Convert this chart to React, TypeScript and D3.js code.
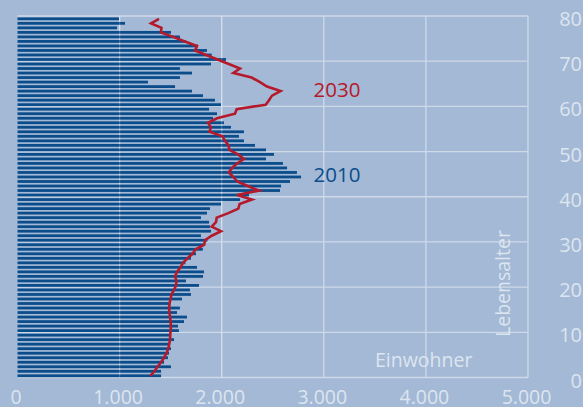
import React from 'react';
import * as d3 from 'd3';

// Age categories 0..79
const AGES: number[] = d3.range(0, 80);

// Population 2010 by age (ages 0..79)
const POP_2010: number[] = [
  1406, 1406, 1503, 1435, 1474, 1484, 1503, 1494, 1533, 1494,
  1581, 1572, 1631, 1660, 1562, 1591, 1500, 1611, 1699, 1689,
  1778, 1650, 1817, 1827, 1758, 1645, 1699, 1748, 1815, 1827,
  1860, 1797, 1895, 1885, 1876, 1797, 1856, 1885, 1993, 2179,
  2267, 2571, 2581, 2669, 2777, 2737, 2640, 2600, 2434, 2512,
  2434, 2326, 2218, 2169, 2218, 2091, 2022, 1915, 1954, 1876,
  1993, 1934, 1817, 1709, 1543, 1278, 1591, 1709, 1591, 1895,
  2042, 1902, 1856, 1766, 1650, 1591, 1503, 975, 1053, 994,
];

// Projection 2030 by age (ages 0..79)
const POP_2030: number[] = [
  1300, 1342, 1371, 1406, 1435, 1459, 1477, 1486, 1494, 1496,
  1500, 1503, 1499, 1494, 1489, 1484, 1489, 1499, 1508, 1533,
  1553, 1557, 1543, 1562, 1597, 1621, 1665, 1714, 1745, 1829,
  1836, 1902, 1993, 1902, 1944, 1951, 2065, 2163, 2175, 2297,
  2150, 2365, 2255, 2153, 2114, 2070, 2101, 2150, 2218, 2160,
  2075, 2067, 2032, 2008, 1880, 1895, 1866, 1954, 2130, 2147,
  2431, 2463, 2493, 2576, 2444, 2375, 2293, 2114, 2179, 2069,
  1959, 1849, 1739, 1758, 1640, 1523, 1405, 1410, 1308, 1386,
];

const X_TICKS: number[] = [0, 1000, 2000, 3000, 4000, 5000];
const X_TICK_LABELS: string[] = ['0', '1.000', '2.000', '3.000', '4.000', '5.000'];
const Y_TICKS: number[] = [0, 10, 20, 30, 40, 50, 60, 70, 80];
const Y_TICK_LABELS: string[] = ['0', '10', '20', '30', '40', '50', '60', '70', '80'];

const W = 583;
const H = 407;
const BG = '#a4b9d5';
const GRID = '#cfdae9';
const TEXT = '#dce5f0';
const BLUE = '#0b4d8b';
const RED = '#b51a2c';
const FONT = "'Open Sans', 'DejaVu Sans', sans-serif";

export default function App() {
  const x = d3.scaleLinear().domain([0, 5000]).range([17.5, 528]);
  const y = d3.scaleLinear().domain([0, 80]).range([377.5, 16]);

  const line = d3
    .line<number>()
    .x((a) => x(POP_2030[a]))
    .y((a) => y(a) - 1.7);

  return (
    <svg
      width={W}
      height={H}
      style={{ position: 'absolute', left: 0, top: 0, display: 'block' }}
      fontFamily={FONT}
    >
      <rect x={0} y={0} width={W} height={H} fill={BG} />

      {/* grid */}
      {Y_TICKS.map((t) => (
        <line key={'h' + t} x1={x(0)} x2={x(5000)} y1={y(t)} y2={y(t)} stroke={GRID} strokeWidth={1.3} />
      ))}
      {X_TICKS.filter((t) => t > 0).map((t) => (
        <line key={'v' + t} x1={x(t)} x2={x(t)} y1={y(80)} y2={y(0)} stroke={GRID} strokeWidth={1.3} />
      ))}

      {/* bars 2010 */}
      {AGES.map((a) => (
        <rect
          key={'b' + a}
          x={x(0)}
          y={y(a) - 3.1}
          width={x(POP_2010[a]) - x(0)}
          height={2.8}
          fill={BLUE}
        />
      ))}

      {/* faint grid over bars */}
      {X_TICKS.filter((t) => t > 0 && t < 3000).map((t) => (
        <line key={'vo' + t} x1={x(t)} x2={x(t)} y1={y(80)} y2={y(0)} stroke="#ffffff" strokeOpacity={0.18} strokeWidth={1.3} />
      ))}

      {/* 2030 line */}
      <path d={line(AGES) || ''} fill="none" stroke={RED} strokeWidth={2.6} strokeLinejoin="miter" />

      {/* x tick labels */}
      {X_TICKS.map((t, i) => (
        <text key={'xt' + t} x={x(t) - 1.5} y={403.5} textAnchor="middle" fontSize={19.5} fill={TEXT}>
          {X_TICK_LABELS[i]}
        </text>
      ))}

      {/* y tick labels */}
      {Y_TICKS.map((t, i) => (
        <text key={'yt' + t} x={582} y={y(t) + 10} textAnchor="end" fontSize={20} fill={TEXT}>
          {Y_TICK_LABELS[i]}
        </text>
      ))}

      <text x={375} y={367} fontSize={19.5} fill={TEXT}>Einwohner</text>
      <text transform="translate(509.5,337) rotate(-90)" fontSize={19.5} fill={TEXT}>Lebensalter</text>

      <text x={360.5} y={97.3} textAnchor="end" fontSize={20.5} fill={RED}>2030</text>
      <text x={360.5} y={181.7} textAnchor="end" fontSize={20.5} fill={BLUE}>2010</text>
    </svg>
  );
}
